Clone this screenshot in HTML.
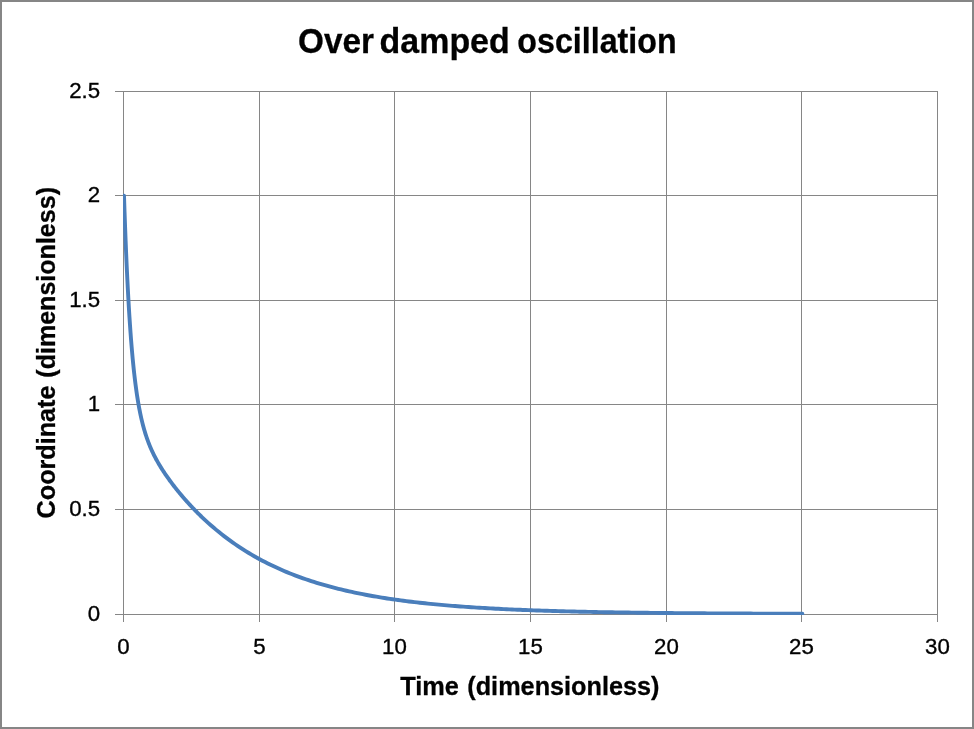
<!DOCTYPE html>
<html><head><meta charset="utf-8"><title>Over damped oscillation</title>
<style>html,body{margin:0;padding:0;background:#fff;}body{width:974px;height:729px;overflow:hidden;}svg{display:block;}text{font-family:"Liberation Sans",sans-serif;fill:#000;}</style>
</head><body>
<svg width="974" height="729" viewBox="0 0 974 729">
<rect x="0" y="0" width="974" height="729" fill="#ffffff"/>
<rect x="1" y="1" width="972" height="727" fill="none" stroke="#868686" stroke-width="2"/>
<g fill="#868686" shape-rendering="crispEdges">
<rect x="123" y="91" width="1" height="531"/>
<rect x="259" y="91" width="1" height="531"/>
<rect x="394" y="91" width="1" height="531"/>
<rect x="530" y="91" width="1" height="531"/>
<rect x="666" y="91" width="1" height="531"/>
<rect x="801" y="91" width="1" height="531"/>
<rect x="937" y="91" width="1" height="531"/>
<rect x="115" y="91" width="823" height="1"/>
<rect x="115" y="195" width="823" height="1"/>
<rect x="115" y="300" width="823" height="1"/>
<rect x="115" y="404" width="823" height="1"/>
<rect x="115" y="509" width="823" height="1"/>
<rect x="115" y="614" width="823" height="1"/>
</g>
<defs><clipPath id="plotclip"><rect x="123" y="91" width="815" height="524"/></clipPath></defs>
<path d="M124.00,195.60 L124.54,211.76 L125.09,226.84 L125.63,240.91 L126.17,254.03 L126.71,266.29 L127.26,277.74 L127.80,288.44 L128.34,298.44 L128.88,307.79 L129.43,316.54 L129.97,324.73 L130.51,332.41 L131.05,339.60 L131.60,346.35 L132.14,352.67 L132.68,358.62 L133.23,364.20 L133.77,369.45 L134.31,374.39 L134.85,379.05 L135.40,383.43 L135.94,387.57 L136.48,391.48 L137.02,395.17 L137.57,398.66 L138.11,401.97 L138.65,405.10 L139.19,408.07 L139.74,410.90 L140.28,413.58 L140.82,416.14 L141.37,418.57 L141.91,420.89 L142.45,423.11 L142.99,425.23 L143.54,427.26 L144.08,429.21 L144.62,431.08 L145.16,432.87 L145.71,434.60 L146.25,436.26 L146.79,437.86 L147.33,439.41 L147.88,440.91 L148.42,442.35 L148.96,443.75 L149.51,445.11 L150.05,446.43 L150.59,447.72 L151.13,448.96 L151.68,450.18 L152.22,451.36 L152.76,452.52 L153.30,453.65 L153.85,454.76 L154.39,455.84 L154.93,456.89 L155.47,457.93 L156.02,458.95 L156.56,459.95 L157.10,460.93 L157.65,461.89 L158.19,462.84 L158.73,463.78 L159.27,464.70 L159.82,465.61 L160.36,466.50 L160.90,467.38 L161.44,468.25 L161.99,469.11 L162.53,469.96 L163.07,470.80 L163.61,471.63 L164.16,472.45 L164.70,473.26 L165.24,474.07 L165.79,474.86 L166.33,475.65 L166.87,476.43 L167.41,477.21 L167.96,477.97 L168.50,478.73 L169.04,479.49 L169.58,480.23 L170.13,480.97 L170.67,481.71 L171.21,482.44 L171.75,483.16 L172.30,483.88 L172.84,484.60 L173.38,485.30 L173.93,486.01 L174.47,486.71 L175.01,487.40 L175.55,488.09 L176.10,488.77 L176.64,489.45 L177.18,490.13 L177.72,490.80 L178.27,491.47 L178.81,492.13 L179.35,492.79 L179.89,493.44 L180.44,494.10 L180.98,494.74 L181.52,495.38 L182.07,496.02 L182.61,496.66 L183.15,497.29 L183.69,497.92 L184.24,498.54 L184.78,499.16 L185.32,499.78 L185.86,500.39 L186.41,501.00 L186.95,501.61 L187.49,502.21 L188.03,502.81 L188.58,503.41 L189.12,504.00 L189.66,504.59 L190.21,505.18 L190.75,505.76 L191.29,506.34 L191.83,506.92 L192.38,507.49 L192.92,508.06 L193.46,508.63 L194.00,509.19 L194.55,509.75 L195.09,510.31 L195.63,510.87 L196.17,511.42 L196.72,511.97 L197.26,512.51 L197.80,513.06 L198.35,513.60 L198.89,514.13 L199.43,514.67 L199.97,515.20 L200.52,515.73 L201.06,516.25 L201.60,516.78 L202.14,517.30 L202.69,517.81 L203.23,518.33 L203.77,518.84 L204.31,519.35 L204.86,519.86 L205.40,520.36 L208.11,522.84 L210.83,525.25 L213.54,527.59 L216.25,529.88 L218.97,532.10 L221.68,534.27 L224.39,536.38 L227.11,538.43 L229.82,540.43 L232.53,542.37 L235.25,544.27 L237.96,546.11 L240.67,547.90 L243.39,549.65 L246.10,551.35 L248.81,553.01 L251.53,554.62 L254.24,556.19 L256.95,557.72 L259.67,559.21 L262.38,560.66 L265.09,562.07 L267.81,563.44 L270.52,564.78 L273.23,566.08 L275.95,567.35 L278.66,568.58 L281.37,569.78 L284.09,570.95 L286.80,572.09 L289.51,573.20 L292.23,574.27 L294.94,575.32 L297.65,576.35 L300.37,577.34 L303.08,578.31 L305.79,579.26 L308.51,580.17 L311.22,581.07 L313.93,581.94 L316.65,582.79 L319.36,583.61 L322.07,584.42 L324.79,585.20 L327.50,585.96 L330.21,586.70 L332.93,587.42 L335.64,588.12 L338.35,588.81 L341.07,589.47 L343.78,590.12 L346.49,590.75 L349.21,591.37 L351.92,591.97 L354.63,592.55 L357.35,593.12 L360.06,593.67 L362.77,594.21 L365.49,594.73 L368.20,595.24 L370.91,595.74 L373.63,596.22 L376.34,596.69 L379.05,597.15 L381.77,597.59 L384.48,598.03 L387.19,598.45 L389.91,598.86 L392.62,599.26 L395.33,599.65 L398.05,600.03 L400.76,600.40 L403.47,600.76 L406.19,601.11 L408.90,601.45 L411.61,601.78 L414.33,602.10 L417.04,602.42 L419.75,602.72 L422.47,603.02 L425.18,603.31 L427.89,603.60 L430.61,603.87 L433.32,604.14 L436.03,604.40 L438.75,604.65 L441.46,604.90 L444.17,605.14 L446.89,605.37 L449.60,605.60 L452.31,605.82 L455.03,606.04 L457.74,606.25 L460.45,606.46 L463.17,606.66 L465.88,606.85 L468.59,607.04 L471.31,607.22 L474.02,607.40 L476.73,607.58 L479.45,607.75 L482.16,607.91 L484.87,608.07 L487.59,608.23 L490.30,608.38 L493.01,608.53 L495.73,608.68 L498.44,608.82 L501.15,608.95 L503.87,609.09 L506.58,609.22 L509.29,609.34 L512.01,609.47 L514.72,609.59 L517.43,609.70 L520.15,609.82 L522.86,609.93 L525.57,610.03 L528.29,610.14 L531.00,610.24 L533.71,610.34 L536.43,610.44 L539.14,610.53 L541.85,610.62 L544.57,610.71 L547.28,610.80 L549.99,610.88 L552.71,610.97 L555.42,611.05 L558.13,611.12 L560.85,611.20 L563.56,611.27 L566.27,611.35 L568.99,611.42 L571.70,611.49 L574.41,611.55 L577.13,611.62 L579.84,611.68 L582.55,611.74 L585.27,611.80 L587.98,611.86 L590.69,611.92 L593.41,611.97 L596.12,612.02 L598.83,612.08 L601.55,612.13 L604.26,612.18 L606.97,612.23 L609.69,612.27 L612.40,612.32 L615.11,612.36 L617.83,612.41 L620.54,612.45 L623.25,612.49 L625.97,612.53 L628.68,612.57 L631.39,612.61 L634.11,612.64 L636.82,612.68 L639.53,612.71 L642.25,612.75 L644.96,612.78 L647.67,612.81 L650.39,612.84 L653.10,612.87 L655.81,612.90 L658.53,612.93 L661.24,612.96 L663.95,612.99 L666.67,613.02 L669.38,613.04 L672.09,613.07 L674.81,613.09 L677.52,613.12 L680.23,613.14 L682.95,613.16 L685.66,613.18 L688.37,613.21 L691.09,613.23 L693.80,613.25 L696.51,613.27 L699.23,613.29 L701.94,613.31 L704.65,613.32 L707.37,613.34 L710.08,613.36 L712.79,613.38 L715.51,613.39 L718.22,613.41 L720.93,613.42 L723.65,613.44 L726.36,613.45 L729.07,613.47 L731.79,613.48 L734.50,613.50 L737.21,613.51 L739.93,613.52 L742.64,613.54 L745.35,613.55 L748.07,613.56 L750.78,613.57 L753.49,613.58 L756.21,613.59 L758.92,613.60 L761.63,613.61 L764.35,613.62 L767.06,613.63 L769.77,613.64 L772.49,613.65 L775.20,613.66 L777.91,613.67 L780.63,613.68 L783.34,613.69 L786.05,613.70 L788.77,613.71 L791.48,613.71 L794.19,613.72 L796.91,613.73 L799.62,613.74 L802.33,613.74" fill="none" stroke="#4a7ebb" stroke-width="3.9" stroke-linejoin="round" stroke-linecap="round" clip-path="url(#plotclip)"/>
<g style="opacity:0.999">
<text transform="translate(336.00,52.80) scale(0.9650,1)" font-size="34.50" text-anchor="middle" font-weight="bold" stroke="#000" stroke-width="0.30">Over</text>
<text transform="translate(444.65,52.80) scale(0.9840,1)" font-size="34.50" text-anchor="middle" font-weight="bold" stroke="#000" stroke-width="0.30">damped</text>
<text transform="translate(596.95,52.80) scale(0.9340,1)" font-size="34.50" text-anchor="middle" font-weight="bold" stroke="#000" stroke-width="0.30">oscillation</text>
<text transform="translate(100.10,98.10) scale(1.0120,1)" font-size="22.00" text-anchor="end" stroke="#000" stroke-width="0.35">2.5</text>
<text transform="translate(100.10,202.10) scale(1.0120,1)" font-size="22.00" text-anchor="end" stroke="#000" stroke-width="0.35">2</text>
<text transform="translate(100.10,307.10) scale(1.0120,1)" font-size="22.00" text-anchor="end" stroke="#000" stroke-width="0.35">1.5</text>
<text transform="translate(100.10,411.10) scale(1.0120,1)" font-size="22.00" text-anchor="end" stroke="#000" stroke-width="0.35">1</text>
<text transform="translate(100.10,516.10) scale(1.0120,1)" font-size="22.00" text-anchor="end" stroke="#000" stroke-width="0.35">0.5</text>
<text transform="translate(100.10,621.10) scale(1.0120,1)" font-size="22.00" text-anchor="end" stroke="#000" stroke-width="0.35">0</text>
<text transform="translate(123.50,653.60) scale(1.0120,1)" font-size="22.00" text-anchor="middle" stroke="#000" stroke-width="0.35">0</text>
<text transform="translate(259.50,653.60) scale(1.0120,1)" font-size="22.00" text-anchor="middle" stroke="#000" stroke-width="0.35">5</text>
<text transform="translate(394.50,653.60) scale(1.0120,1)" font-size="22.00" text-anchor="middle" stroke="#000" stroke-width="0.35">10</text>
<text transform="translate(530.50,653.60) scale(1.0120,1)" font-size="22.00" text-anchor="middle" stroke="#000" stroke-width="0.35">15</text>
<text transform="translate(666.50,653.60) scale(1.0120,1)" font-size="22.00" text-anchor="middle" stroke="#000" stroke-width="0.35">20</text>
<text transform="translate(801.50,653.60) scale(1.0120,1)" font-size="22.00" text-anchor="middle" stroke="#000" stroke-width="0.35">25</text>
<text transform="translate(937.50,653.60) scale(1.0120,1)" font-size="22.00" text-anchor="middle" stroke="#000" stroke-width="0.35">30</text>
<text transform="translate(429.50,694.80) scale(0.9745,1)" font-size="26.00" text-anchor="middle" font-weight="bold" stroke="#000" stroke-width="0.30">Time</text>
<text transform="translate(563.40,694.80) scale(0.9716,1)" font-size="26.00" text-anchor="middle" font-weight="bold" stroke="#000" stroke-width="0.30">(dimensionless)</text>
<text transform="translate(54.80,451.95) rotate(-90) scale(0.9690,1)" font-size="26.00" text-anchor="middle" font-weight="bold" stroke="#000" stroke-width="0.30">Coordinate</text>
<text transform="translate(54.80,282.35) rotate(-90) scale(0.9642,1)" font-size="26.00" text-anchor="middle" font-weight="bold" stroke="#000" stroke-width="0.30">(dimensionless)</text>
</g>
</svg></body></html>
